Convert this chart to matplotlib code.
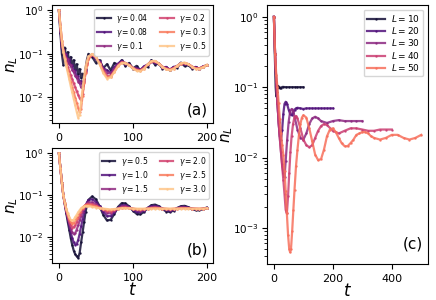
import matplotlib
matplotlib.use("Agg")
from matplotlib import pyplot as plt
import numpy as np

# time grid shared by panels (a) and (b)
t_short = [0, 2, 4, 6, 8, 10, 12, 14, 16, 18, 20, 22, 24, 26, 28, 30, 32, 34, 36, 38, 40,
           45, 50, 55, 60, 65, 70, 75, 80, 85, 90, 95, 100, 105, 110, 115, 120, 125, 130,
           135, 140, 145, 150, 155, 160, 165, 170, 175, 180, 185, 190, 195, 200]

gamma_a = [0.04, 0.08, 0.1, 0.2, 0.3, 0.5]
n_a = [
    [1.0, 0.3, 0.1, 0.055, 0.14, 0.07, 0.11, 0.062, 0.085, 0.052, 0.072, 0.042, 0.058, 0.034, 0.045, 0.028, 0.035, 0.026, 0.045, 0.075, 0.1,
     0.085, 0.062, 0.072, 0.047, 0.058, 0.042, 0.062, 0.056, 0.072, 0.052, 0.062, 0.046, 0.053, 0.042, 0.05, 0.05, 0.072, 0.056,
     0.06, 0.046, 0.05, 0.042, 0.05, 0.048, 0.063, 0.052, 0.055, 0.046, 0.05, 0.045, 0.05, 0.055],
    [1.0, 0.38, 0.13, 0.13, 0.09, 0.1, 0.07, 0.075, 0.052, 0.056, 0.038, 0.042, 0.028, 0.031, 0.021, 0.024, 0.019, 0.026, 0.042, 0.065, 0.088,
     0.095, 0.075, 0.068, 0.047, 0.042, 0.037, 0.05, 0.06, 0.07, 0.058, 0.058, 0.046, 0.048, 0.042, 0.052, 0.056, 0.069, 0.062,
     0.06, 0.048, 0.05, 0.043, 0.05, 0.052, 0.062, 0.057, 0.058, 0.048, 0.05, 0.045, 0.052, 0.054],
    [1.0, 0.4, 0.16, 0.12, 0.1, 0.08, 0.075, 0.058, 0.055, 0.042, 0.04, 0.031, 0.03, 0.023, 0.022, 0.017, 0.016, 0.024, 0.04, 0.062, 0.082,
     0.096, 0.08, 0.065, 0.045, 0.037, 0.035, 0.045, 0.058, 0.066, 0.06, 0.056, 0.047, 0.045, 0.042, 0.049, 0.057, 0.067, 0.064,
     0.06, 0.05, 0.048, 0.044, 0.048, 0.053, 0.061, 0.059, 0.058, 0.05, 0.048, 0.046, 0.051, 0.054],
    [1.0, 0.45, 0.2, 0.12, 0.085, 0.065, 0.05, 0.04, 0.032, 0.026, 0.021, 0.017, 0.014, 0.0115, 0.0095, 0.0085, 0.012, 0.022, 0.038, 0.058, 0.078,
     0.097, 0.083, 0.061, 0.041, 0.031, 0.031, 0.04, 0.054, 0.064, 0.062, 0.055, 0.048, 0.043, 0.042, 0.047, 0.057, 0.066, 0.067,
     0.06, 0.051, 0.046, 0.044, 0.047, 0.053, 0.06, 0.061, 0.058, 0.051, 0.047, 0.047, 0.05, 0.055],
    [1.0, 0.45, 0.2, 0.115, 0.08, 0.057, 0.042, 0.031, 0.023, 0.017, 0.013, 0.0098, 0.0075, 0.0058, 0.0046, 0.0055, 0.011, 0.021, 0.036, 0.055, 0.075,
     0.098, 0.084, 0.06, 0.039, 0.029, 0.03, 0.039, 0.053, 0.063, 0.062, 0.055, 0.047, 0.042, 0.041, 0.046, 0.057, 0.067, 0.068,
     0.06, 0.05, 0.045, 0.043, 0.046, 0.053, 0.06, 0.062, 0.058, 0.051, 0.046, 0.046, 0.05, 0.055],
    [1.0, 0.45, 0.2, 0.11, 0.075, 0.052, 0.037, 0.026, 0.018, 0.013, 0.0092, 0.0066, 0.0047, 0.0034, 0.004, 0.008, 0.016, 0.03, 0.05, 0.07, 0.088,
     0.1, 0.085, 0.058, 0.036, 0.027, 0.029, 0.038, 0.052, 0.062, 0.061, 0.054, 0.046, 0.041, 0.04, 0.045, 0.057, 0.068, 0.069,
     0.06, 0.05, 0.044, 0.042, 0.045, 0.053, 0.061, 0.063, 0.058, 0.05, 0.045, 0.045, 0.049, 0.056],
]

gamma_b = [0.5, 1.0, 1.5, 2.0, 2.5, 3.0]
n_b = [
    [1.0, 0.45, 0.2, 0.1, 0.06, 0.037, 0.023, 0.015, 0.0095, 0.0065, 0.0048, 0.0039, 0.0035, 0.0032, 0.0042, 0.0075, 0.013, 0.023, 0.04, 0.06, 0.078,
     0.094, 0.08, 0.055, 0.034, 0.025, 0.026, 0.036, 0.053, 0.065, 0.064, 0.054, 0.043, 0.036, 0.035, 0.04, 0.05, 0.058, 0.06,
     0.055, 0.047, 0.041, 0.04, 0.043, 0.05, 0.055, 0.056, 0.052, 0.047, 0.044, 0.044, 0.047, 0.051],
    [1.0, 0.45, 0.2, 0.1, 0.062, 0.04, 0.027, 0.019, 0.013, 0.0095, 0.0075, 0.0066, 0.0068, 0.0085, 0.012, 0.018, 0.027, 0.04, 0.055, 0.068, 0.077,
     0.08, 0.07, 0.054, 0.04, 0.032, 0.032, 0.039, 0.05, 0.058, 0.058, 0.052, 0.045, 0.04, 0.04, 0.043, 0.05, 0.055, 0.056,
     0.053, 0.048, 0.044, 0.043, 0.045, 0.049, 0.053, 0.053, 0.051, 0.048, 0.046, 0.046, 0.048, 0.05],
    [1.0, 0.45, 0.2, 0.1, 0.063, 0.042, 0.03, 0.022, 0.016, 0.013, 0.012, 0.0125, 0.015, 0.019, 0.025, 0.032, 0.041, 0.05, 0.058, 0.064, 0.068,
     0.068, 0.062, 0.052, 0.044, 0.038, 0.037, 0.042, 0.049, 0.054, 0.055, 0.051, 0.047, 0.044, 0.043, 0.045, 0.049, 0.052, 0.053,
     0.051, 0.048, 0.046, 0.045, 0.046, 0.049, 0.051, 0.051, 0.05, 0.048, 0.047, 0.047, 0.048, 0.05],
    [1.0, 0.45, 0.2, 0.1, 0.064, 0.044, 0.032, 0.024, 0.019, 0.017, 0.0175, 0.019, 0.023, 0.028, 0.034, 0.041, 0.048, 0.054, 0.059, 0.062, 0.063,
     0.061, 0.057, 0.051, 0.046, 0.042, 0.041, 0.044, 0.048, 0.051, 0.052, 0.05, 0.048, 0.046, 0.045, 0.046, 0.048, 0.05, 0.051,
     0.05, 0.048, 0.047, 0.046, 0.047, 0.048, 0.05, 0.05, 0.049, 0.048, 0.048, 0.047, 0.048, 0.049],
    [1.0, 0.45, 0.2, 0.1, 0.065, 0.046, 0.034, 0.027, 0.023, 0.021, 0.022, 0.025, 0.029, 0.034, 0.04, 0.046, 0.051, 0.055, 0.058, 0.059, 0.059,
     0.057, 0.054, 0.05, 0.047, 0.045, 0.044, 0.046, 0.048, 0.05, 0.05, 0.049, 0.048, 0.047, 0.046, 0.047, 0.048, 0.049, 0.05,
     0.049, 0.048, 0.048, 0.047, 0.048, 0.048, 0.049, 0.049, 0.049, 0.048, 0.048, 0.048, 0.048, 0.049],
    [1.0, 0.45, 0.2, 0.1, 0.066, 0.048, 0.037, 0.03, 0.026, 0.025, 0.026, 0.03, 0.034, 0.039, 0.044, 0.049, 0.052, 0.054, 0.055, 0.055, 0.055,
     0.053, 0.051, 0.049, 0.048, 0.047, 0.046, 0.047, 0.048, 0.049, 0.049, 0.049, 0.048, 0.048, 0.048, 0.048, 0.048, 0.048, 0.048,
     0.048, 0.048, 0.048, 0.048, 0.048, 0.048, 0.048, 0.048, 0.048, 0.048, 0.048, 0.048, 0.048, 0.049],
]

L_vals = [10, 20, 30, 40, 50]
t_c = [
    [0, 3, 6, 8, 10, 13, 16, 20, 25, 30, 40, 50, 60, 70, 80, 90, 100],
    [0, 4, 8, 12, 16, 20, 24, 28, 32, 36, 40, 45, 50, 55, 60, 65, 70, 75, 80, 90, 100,
     110, 120, 130, 140, 150, 160, 170, 180, 190, 200],
    [0, 4, 8, 12, 16, 20, 24, 28, 32, 36, 40, 45, 50, 55, 60, 65, 70, 80, 90, 100, 110,
     120, 130, 140, 150, 160, 180, 200, 220, 240, 260, 280, 300],
    [0, 4, 8, 12, 16, 20, 24, 28, 32, 36, 40, 44, 48, 52, 56, 60, 65, 70, 75, 80, 90,
     100, 110, 120, 130, 140, 150, 160, 170, 180, 200, 220, 240, 260, 280, 300, 320, 340,
     360, 380, 400],
    [0, 4, 8, 12, 16, 20, 24, 28, 32, 36, 40, 44, 48, 52, 55, 58, 62, 66, 70, 75, 80, 85,
     90, 95, 100, 110, 120, 130, 140, 150, 160, 170, 180, 190, 200, 210, 220, 230, 240,
     250, 260, 270, 280, 290, 300, 310, 320, 330, 340, 360, 380, 400, 420, 440, 460, 480, 500],
]
n_c = [
    [1.0, 0.3, 0.1, 0.075, 0.085, 0.105, 0.1, 0.097, 0.099, 0.101, 0.1, 0.1, 0.1, 0.1, 0.1, 0.1, 0.1],
    [1.0, 0.3, 0.12, 0.06, 0.032, 0.02, 0.018, 0.025, 0.042, 0.058, 0.062, 0.057, 0.048, 0.042, 0.04,
     0.043, 0.048, 0.05, 0.051, 0.05, 0.049, 0.05, 0.05, 0.05, 0.05, 0.05, 0.05, 0.05, 0.05, 0.05, 0.05],
    [1.0, 0.3, 0.12, 0.06, 0.032, 0.019, 0.012, 0.008, 0.006, 0.0052, 0.009, 0.018, 0.032, 0.045, 0.049,
     0.046, 0.038, 0.025, 0.019, 0.018, 0.022, 0.03, 0.036, 0.038, 0.036, 0.033, 0.031, 0.033, 0.034,
     0.033, 0.033, 0.033, 0.033],
    [1.0, 0.3, 0.12, 0.06, 0.032, 0.019, 0.012, 0.0075, 0.0048, 0.003, 0.0018, 0.0016, 0.0028, 0.006,
     0.012, 0.02, 0.03, 0.038, 0.039, 0.036, 0.026, 0.018, 0.015, 0.014, 0.015, 0.019, 0.024, 0.028,
     0.03, 0.029, 0.024, 0.022, 0.024, 0.026, 0.026, 0.025, 0.024, 0.024, 0.025, 0.025, 0.025],
    [1.0, 0.3, 0.15, 0.1, 0.06, 0.035, 0.022, 0.015, 0.011, 0.0065, 0.0033, 0.0016, 0.0008, 0.0005,
     0.00045, 0.0005, 0.0009, 0.0018, 0.0035, 0.0075, 0.013, 0.021, 0.03, 0.037, 0.04, 0.037, 0.026,
     0.017, 0.011, 0.0092, 0.0095, 0.013, 0.02, 0.025, 0.026, 0.023, 0.019, 0.016, 0.0145, 0.0145,
     0.016, 0.018, 0.021, 0.022, 0.023, 0.023, 0.022, 0.02, 0.019, 0.018, 0.019, 0.021, 0.021, 0.019,
     0.018, 0.019, 0.021],
]

plt.rcParams['font.size'] = 8
fig = plt.figure(figsize=(4.36, 3.0), dpi=100)
ax_a = fig.add_axes([0.119, 0.59, 0.369, 0.393])
ax_b = fig.add_axes([0.119, 0.123, 0.369, 0.383])
ax_c = fig.add_axes([0.612, 0.12, 0.369, 0.863])

cols6 = plt.cm.magma(np.linspace(0.1, 0.88, 6))
cols5 = plt.cm.magma(np.linspace(0.1, 0.7, 5))

for i, g in enumerate(gamma_a):
    ax_a.plot(t_short, n_a[i], '-', marker='.', ms=1.5, lw=1.6, color=cols6[i], alpha=0.85,
              label=r'$\gamma = %s$' % g)
for i, g in enumerate(gamma_b):
    ax_b.plot(t_short, n_b[i], '-', marker='.', ms=1.5, lw=1.6, color=cols6[i], alpha=0.85,
              label=r'$\gamma = %s$' % g)
for i, L in enumerate(L_vals):
    ax_c.plot(t_c[i], n_c[i], '-', marker='.', ms=1.5, lw=1.6, color=cols5[i], alpha=0.85,
              label=r'$L = %d$' % L)

for ax, lab in [(ax_a, '(a)'), (ax_b, '(b)'), (ax_c, '(c)')]:
    ax.set_yscale('log')
    ax.set_ylabel(r'$n_L$', fontsize=11)
    ax.yaxis.set_label_coords(-0.2, 0.5)
    ax.text(0.97, 0.05, lab, transform=ax.transAxes, ha='right', va='bottom', fontsize=11)
    ax.tick_params(axis='x', labelsize=8)
    ax.tick_params(axis='y', labelsize=7.5, pad=2.5)

ax_a.set_xlim(-9.5, 208)
ax_b.set_xlim(-9.5, 208)
ax_c.set_xlim(-24, 522)
ax_c.set_xticks([0, 200, 400])
ax_b.set_xlabel(r'$t$', fontsize=12, labelpad=-1)
ax_c.set_xlabel(r'$t$', fontsize=12, labelpad=-1)

ax_a.legend(ncol=2, fontsize=5.5, loc='upper right', handlelength=1.8, labelspacing=0.15,
            columnspacing=1.5, borderpad=0.35, handletextpad=0.7)
ax_b.legend(ncol=2, fontsize=5.5, loc='upper right', handlelength=1.8, labelspacing=0.15,
            columnspacing=1.5, borderpad=0.35, handletextpad=0.7)
ax_c.legend(fontsize=6.5, loc='upper right', handlelength=2.0, labelspacing=0.15,
            borderpad=0.35, handletextpad=0.7)

fig.savefig('out.png', dpi=100)
